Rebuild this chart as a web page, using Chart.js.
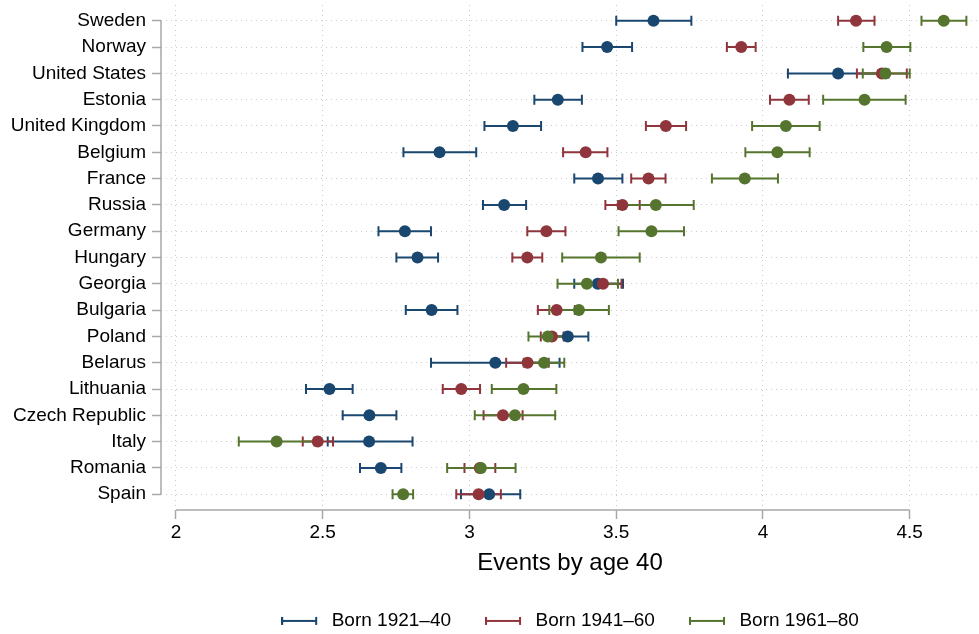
<!DOCTYPE html>
<html>
<head>
<meta charset="utf-8">
<script src="https://cdn.jsdelivr.net/npm/chart.js@4"></script>
<style>html, body { margin: 0; padding: 0; background: #fff; } canvas { display: block; }</style>
</head>
<body>
<canvas id="chart" width="979" height="634"></canvas>
<script>
const countries = ['Sweden', 'Norway', 'United States', 'Estonia', 'United Kingdom', 'Belgium', 'France',
  'Russia', 'Germany', 'Hungary', 'Georgia', 'Bulgaria', 'Poland', 'Belarus', 'Lithuania',
  'Czech Republic', 'Italy', 'Romania', 'Spain'];

const cohortLabels = ['Born 1921\u201340', 'Born 1941\u201360', 'Born 1961\u201380'];
const cohortColors = ['#1a476f', '#90353b', '#55752f'];

// Born 1921-40
const mean1921 = [3.627, 3.469, 4.256, 3.301, 3.148, 2.898, 3.438, 3.118, 2.780, 2.823, 3.437, 2.871, 3.335, 3.088, 2.523, 2.659, 2.658, 2.698, 3.067];
const lo1921   = [3.500, 3.385, 4.085, 3.221, 3.051, 2.775, 3.357, 3.046, 2.690, 2.751, 3.357, 2.783, 3.265, 2.869, 2.443, 2.568, 2.517, 2.627, 2.971];
const hi1921   = [3.756, 3.554, 4.427, 3.383, 3.244, 3.023, 3.521, 3.193, 2.869, 2.893, 3.523, 2.959, 3.405, 3.307, 2.602, 2.751, 2.806, 2.768, 3.173];

// Born 1941-60
const mean1941 = [4.317, 3.926, 4.405, 4.090, 3.669, 3.396, 3.610, 3.521, 3.262, 3.197, 3.455, 3.297, 3.281, 3.198, 2.972, 3.114, 2.483, 3.035, 3.031];
const lo1941   = [4.256, 3.877, 4.320, 4.024, 3.601, 3.319, 3.551, 3.463, 3.197, 3.146, 3.392, 3.233, 3.243, 3.125, 2.909, 3.048, 2.432, 2.983, 2.955];
const hi1941   = [4.380, 3.975, 4.490, 4.156, 3.738, 3.470, 3.668, 3.580, 3.327, 3.248, 3.518, 3.359, 3.321, 3.270, 3.036, 3.181, 2.535, 3.088, 3.107];

// Born 1961-80
const mean1961 = [4.616, 4.421, 4.417, 4.346, 4.078, 4.049, 3.938, 3.635, 3.620, 3.448, 3.400, 3.373, 3.267, 3.254, 3.184, 3.155, 2.343, 3.039, 2.774];
const lo1961   = [4.540, 4.342, 4.340, 4.205, 3.963, 3.940, 3.826, 3.506, 3.508, 3.316, 3.300, 3.272, 3.201, 3.185, 3.076, 3.018, 2.214, 2.924, 2.738];
const hi1961   = [4.693, 4.502, 4.500, 4.486, 4.193, 4.159, 4.051, 3.764, 3.731, 3.580, 3.506, 3.475, 3.333, 3.323, 3.296, 3.292, 2.472, 3.157, 2.808];

const xTicks = [2, 2.5, 3, 3.5, 4, 4.5];

const cohorts = [
  { mean: mean1921, lo: lo1921, hi: hi1921 },
  { mean: mean1941, lo: lo1941, hi: hi1941 },
  { mean: mean1961, lo: lo1961, hi: hi1961 },
];

const axisGray = '#a8a8a8';
const gridGray = '#cccccc';

Chart.defaults.font.family = '"Liberation Sans", Arial, Helvetica, sans-serif';
Chart.defaults.color = '#000';

// legend symbol: a capped horizontal line, like the error bars
function capIcon(color) {
  const c = document.createElement('canvas');
  c.width = 41;
  c.height = 12;
  const g = c.getContext('2d');
  g.strokeStyle = color;
  g.lineWidth = 2;
  g.beginPath();
  g.moveTo(1, 6); g.lineTo(35, 6);
  g.moveTo(1, 2); g.lineTo(1, 10);
  g.moveTo(35, 2); g.lineTo(35, 10);
  g.stroke();
  return c;
}
const legendIcons = cohortColors.map(capIcon);

const errorBars = {
  id: 'errorBars',
  beforeDatasetsDraw(chart) {
    const { ctx, scales: { x, y } } = chart;
    ctx.save();
    ctx.lineWidth = 2;
    cohorts.forEach((c, k) => {
      ctx.strokeStyle = cohortColors[k];
      c.lo.forEach((lo, i) => {
        const x1 = x.getPixelForValue(lo);
        const x2 = x.getPixelForValue(c.hi[i]);
        const yy = y.getPixelForValue(i);
        ctx.beginPath();
        ctx.moveTo(x1, yy); ctx.lineTo(x2, yy);
        ctx.moveTo(x1, yy - 5); ctx.lineTo(x1, yy + 5);
        ctx.moveTo(x2, yy - 5); ctx.lineTo(x2, yy + 5);
        ctx.stroke();
      });
    });
    ctx.restore();
  }
};

// Stata-style axis lines, running only between the first and last tick
const axisLines = {
  id: 'axisLines',
  beforeDatasetsDraw(chart) {
    const { ctx, chartArea, scales: { x, y } } = chart;
    ctx.save();
    ctx.strokeStyle = axisGray;
    ctx.lineWidth = 1.5;
    ctx.beginPath();
    ctx.moveTo(chartArea.left, y.getPixelForValue(0));
    ctx.lineTo(chartArea.left, y.getPixelForValue(countries.length - 1));
    ctx.moveTo(x.getPixelForValue(xTicks[0]), chartArea.bottom);
    ctx.lineTo(x.getPixelForValue(xTicks[xTicks.length - 1]), chartArea.bottom);
    ctx.stroke();
    ctx.restore();
  }
};

const datasets = cohorts.map((c, k) => ({
  label: cohortLabels[k],
  data: c.mean.map((v, i) => ({ x: v, y: i })),
  backgroundColor: cohortColors[k],
  borderColor: cohortColors[k],
  borderWidth: 0,
  pointRadius: 6,
  pointHoverRadius: 6,
  order: cohorts.length - k,
}));

new Chart(document.getElementById('chart'), {
  type: 'scatter',
  data: { datasets },
  options: {
    responsive: false,
    animation: false,
    layout: { autoPadding: false, padding: { top: 5, right: 0, left: 0, bottom: -6.4 } },
    plugins: {
      tooltip: { enabled: false },
      legend: {
        position: 'bottom',
        fullSize: false,
        labels: {
          usePointStyle: true,
          pointStyleWidth: 41,
          padding: 34,
          font: { size: 19 },
          color: '#000',
          generateLabels: () => cohortLabels.map((text, k) => ({
            text,
            pointStyle: legendIcons[k],
            fontColor: '#000',
            datasetIndex: k,
            hidden: false,
            lineWidth: 0,
          })),
        },
      },
    },
    scales: {
      x: {
        type: 'linear',
        min: 1.949,
        max: 4.736,
        afterBuildTicks: (s) => { s.ticks = xTicks.map(v => ({ value: v })); },
        afterFit: (s) => { s.height = 67.4; s.paddingLeft = 0; s.paddingRight = 0; },
        ticks: { font: { size: 19 }, padding: 2, callback: (v) => String(v) },
        grid: { color: gridGray, lineWidth: 1, tickLength: 9, tickColor: axisGray, tickWidth: 1.5, tickBorderDash: [] },
        border: { display: false, dash: [1, 4] },
        title: { display: true, text: 'Events by age 40', font: { size: 24 }, padding: { top: 0, bottom: 0 }, color: '#000' },
      },
      y: {
        type: 'linear',
        reverse: true,
        min: -0.6,
        max: countries.length - 1 + 0.6,
        afterBuildTicks: (s) => { s.ticks = countries.map((c, i) => ({ value: i })); },
        afterFit: (s) => { s.width = 161; s.paddingTop = 0; s.paddingBottom = 0; },
        ticks: { font: { size: 19 }, padding: 6, callback: (v) => countries[v] },
        grid: { color: gridGray, lineWidth: 1, tickLength: 9, tickColor: axisGray, tickWidth: 1.5, tickBorderDash: [] },
        border: { display: false, dash: [1, 4] },
      },
    },
  },
  plugins: [errorBars, axisLines],
});
</script>
</body>
</html>
